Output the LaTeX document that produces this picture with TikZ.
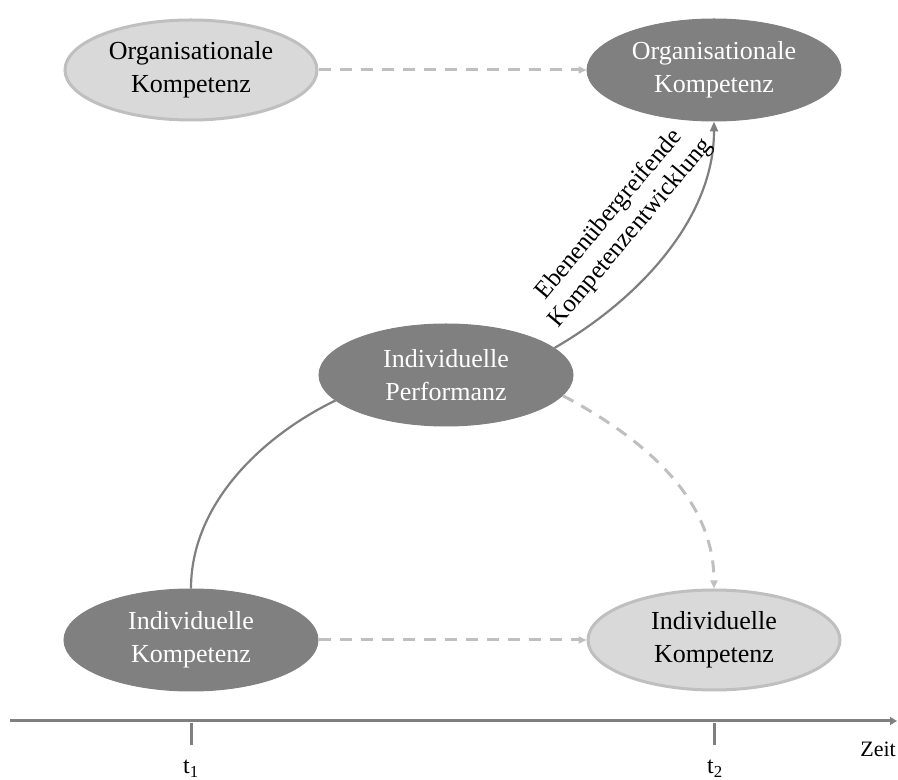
\documentclass[tikz,border=0pt]{standalone}
\usepackage{fontspec}
\setmainfont{Liberation Serif}
\usetikzlibrary{shapes.geometric,arrows.meta}

\definecolor{darkfill}{HTML}{808080}
\definecolor{lightfill}{HTML}{D9D9D9}
\definecolor{lightline}{HTML}{BFBFBF}
\definecolor{solidline}{HTML}{7F7F7F}

\tikzset{
  darkellipse/.style={ellipse, fill=darkfill, draw=darkfill, line width=1pt,
    minimum width=254pt, minimum height=102pt, inner sep=0pt,
    text=white, align=center, font=\fontsize{26}{33}\selectfont},
  lightellipse/.style={ellipse, fill=lightfill, draw=lightline, line width=3pt,
    minimum width=252pt, minimum height=100pt, inner sep=0pt,
    text=black, align=center, font=\fontsize{26}{33}\selectfont},
  timeflow/.style={draw=lightline, line width=3pt, dash pattern=on 12pt off 9pt,
    -{Triangle[length=8pt,width=7pt,fill=lightline]}},
  growth/.style={draw=solidline, line width=2.2pt},
  axisline/.style={draw=solidline, line width=3pt},
  ticklabel/.style={font=\fontsize{24}{28}\selectfont, inner sep=0pt, anchor=base}
}

\begin{document}
\begin{tikzpicture}[x=1pt,y=1pt]
  \useasboundingbox (0,0) rectangle (898,780);

  % competence and performance nodes
  \node[lightellipse] (ok1) at (191,710) {Organisationale\\Kompetenz};
  \node[darkellipse]  (ok2) at (714,710) {Organisationale\\Kompetenz};
  \node[darkellipse]  (ip)  at (446,405) {Individuelle\\Performanz};
  \node[darkellipse]  (ik1) at (191,140) {Individuelle\\Kompetenz};
  \node[lightellipse] (ik2) at (714,140) {Individuelle\\Kompetenz};

  % development over time (dashed)
  \draw[timeflow] (ok1) -- (ok2);
  \draw[timeflow] (ik1) -- (ik2);
  \draw[timeflow] (ip.-10) to[out=-28, in=90, looseness=0.95] (ik2.north);

  % individual competence leads to performance
  \draw[growth] (ik1.north) to[out=90, in=206, looseness=0.9] (ip.193);

  % cross-level development
  \draw[growth, -{Triangle[length=10pt,width=8pt]}]
    (ip.14) to[out=30, in=-90, looseness=0.9] (ok2.south);
  \node[rotate=50, align=center, font=\fontsize{25}{28.5}\selectfont, inner sep=0pt]
    (lbl) at (620,556) {Ebenenübergreifende\\Kompetenzentwicklung};

  % time axis
  \coordinate (axstart) at (10,59);
  \coordinate (axend) at (897,59);
  \draw[axisline, -{Triangle[length=7pt,width=8pt]}] (axstart) -- (axend);
  \coordinate (t1top) at (191,57);
  \coordinate (t1bot) at (191,35);
  \coordinate (t2top) at (714,57);
  \coordinate (t2bot) at (714,35);
  \draw[axisline] (t1top) -- (t1bot);
  \draw[axisline] (t2top) -- (t2bot);
  \node[ticklabel] (t1) at (191,6) {t\textsubscript{1}};
  \node[ticklabel] (t2) at (715,6) {t\textsubscript{2}};
  \node[ticklabel, anchor=base east, font=\fontsize{22}{26}\selectfont] (zeit) at (896,23) {Zeit};
\end{tikzpicture}
\end{document}
